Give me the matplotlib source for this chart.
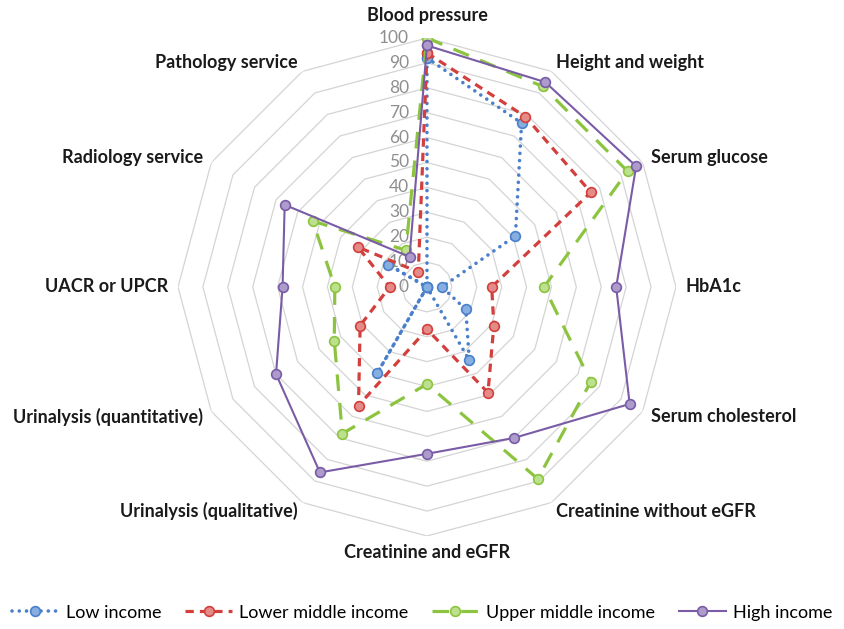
import numpy as np
import matplotlib
matplotlib.use("Agg")
import matplotlib.pyplot as plt
from matplotlib.transforms import offset_copy

plt.rcParams['font.family'] = ['Lato', 'DejaVu Sans']

# Categories (clockwise from top)
categories = ['Blood pressure', 'Height and weight', 'Serum glucose', 'HbA1c',
              'Serum cholesterol', 'Creatinine without eGFR', 'Creatinine and eGFR',
              'Urinalysis (qualitative)', 'Urinalysis (quantitative)', 'UACR or UPCR',
              'Radiology service', 'Pathology service']

low_income = [92, 76, 41, 6, 18, 34, 0, 40, 0, 0, 18, 0]
lower_middle = [94, 79, 76, 26, 31, 49, 17, 55, 31, 15, 32, 7]
upper_middle = [100, 93, 93, 47, 76, 89, 39, 68, 43, 37, 53, 17]
high_income = [97, 95, 97, 76, 94, 70, 67, 86, 70, 58, 66, 14]

ring_values = [0, 10, 20, 30, 40, 50, 60, 70, 80, 90, 100]

n = len(categories)
angles = np.linspace(0, 2 * np.pi, n, endpoint=False)
angles_closed = np.append(angles, angles[0])

fig = plt.figure(figsize=(8.44, 6.29), dpi=100)
ax = fig.add_axes([0.2109, 0.1479, 0.59, 0.7917], projection='polar')
ax.set_theta_zero_location('N')
ax.set_theta_direction(-1)
ax.set_ylim(0, 100)
ax.set_xticks([])
ax.set_yticks([])
ax.grid(False)
ax.spines['polar'].set_visible(False)
ax.patch.set_alpha(0)

# polygon grid rings
for r in ring_values[1:]:
    ax.plot(angles_closed, [r] * (n + 1), color='#d4d4d4', lw=0.9, zorder=1)

# value labels along the top axis
lab_tr = offset_copy(ax.transData, fig=fig, x=-18, y=0, units='dots')
for r in ring_values:
    ax.text(0, r, str(r), transform=lab_tr, ha='right', va='center',
            fontsize=12.5, color='#8f8f8f', zorder=2)

series = [
    ('Low income', low_income, '#4a7fcb', '#86aee0', dict(linestyle=(0, (0.01, 2.0)), lw=2.6, dash_capstyle='round')),
    ('Lower middle income', lower_middle, '#d23f3c', '#e48b88', dict(linestyle=(0, (2.6, 1.9)), lw=2.3)),
    ('Upper middle income', upper_middle, '#8cc43f', '#bde08e', dict(linestyle=(0, (5.2, 3.8)), lw=2.3)),
    ('High income', high_income, '#7a5ca6', '#ad9bcb', dict(linestyle='-', lw=1.5)),
]

for name, vals, col, fill, style in series:
    v = list(vals) + [vals[0]]
    ax.plot(angles_closed, v, color=col, marker='o', markersize=7,
            markerfacecolor=fill, markeredgecolor=col, markeredgewidth=1.2,
            label=name, zorder=3, **style)

# category labels
for ang, cat in zip(angles, categories):
    s, c = np.sin(ang), np.cos(ang)
    if abs(s) < 0.1:
        ha = 'center'
        va = 'bottom' if c > 0 else 'top'
        k = 14 if c > 0 else 8
    else:
        ha = 'left' if s > 0 else 'right'
        va = 'center'
        k = 10
    tr = offset_copy(ax.transData, fig=fig, x=k * s, y=k * c, units='dots')
    ax.text(ang, 100, cat, transform=tr, ha=ha, va=va, fontsize=13,
            fontweight='bold', color='#1a1a1a')

fig.legend(loc='center', bbox_to_anchor=(0.5, 0.026), ncol=4, frameon=False,
           fontsize=13, handlelength=2.6, columnspacing=1.3, handletextpad=0.4)

fig.savefig('out.png', dpi=100)
